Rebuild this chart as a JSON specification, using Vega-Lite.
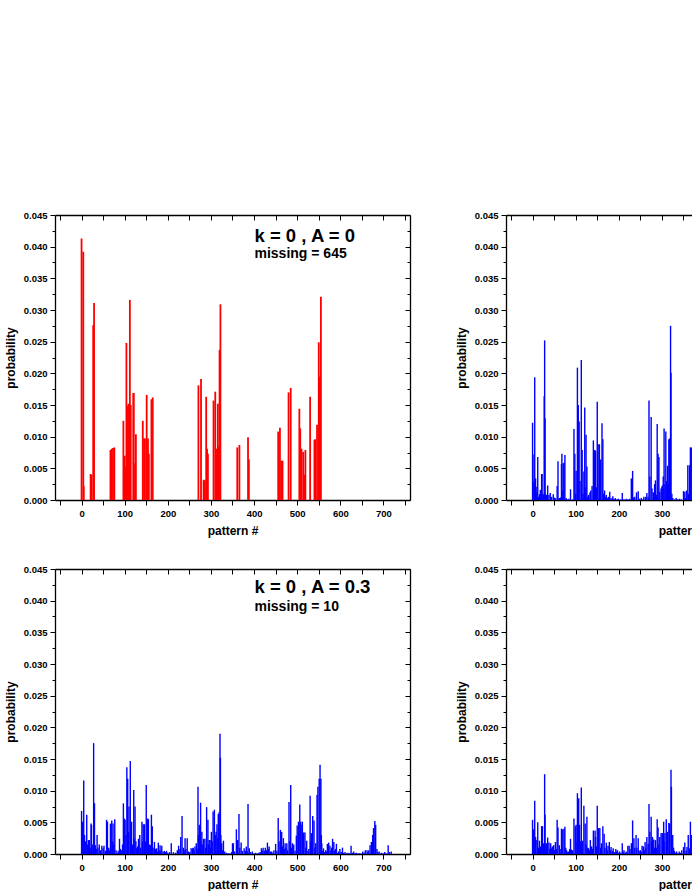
{
  "$schema": "https://vega.github.io/schema/vega-lite/v6.json",
  "background": "white",
  "padding": {"left": 4, "top": 210, "right": 0, "bottom": 0},
  "datasets": {
    "p1": [
      {"x":0,"p":0.0413},{"x":4,"p":0.0392},{"x":5,"p":0.0022},{"x":21,"p":0.0041},{"x":23,"p":0.0040},{"x":27,"p":0.0276},{"x":29,"p":0.0311},
      {"x":67,"p":0.0079},{"x":70,"p":0.0081},{"x":73,"p":0.0082},{"x":76,"p":0.0083},{"x":97,"p":0.0125},{"x":100,"p":0.0070},{"x":102,"p":0.0053},
      {"x":104,"p":0.0248},{"x":106,"p":0.0149},{"x":109,"p":0.0152},{"x":112,"p":0.0316},{"x":114,"p":0.0150},{"x":120,"p":0.0169},{"x":121,"p":0.0169},
      {"x":124,"p":0.0058},{"x":126,"p":0.0104},{"x":142,"p":0.0125},{"x":145,"p":0.0097},{"x":147,"p":0.0097},{"x":151,"p":0.0166},{"x":154,"p":0.0097},
      {"x":156,"p":0.0073},{"x":162,"p":0.0159},{"x":165,"p":0.0162},{"x":271,"p":0.0181},{"x":277,"p":0.0191},{"x":283,"p":0.0032},{"x":286,"p":0.0031},
      {"x":289,"p":0.0163},{"x":291,"p":0.0081},{"x":293,"p":0.0073},{"x":306,"p":0.0157},{"x":310,"p":0.0171},{"x":313,"p":0.0081},{"x":316,"p":0.0152},
      {"x":318,"p":0.0085},{"x":320,"p":0.0237},{"x":322,"p":0.0309},{"x":361,"p":0.0083},{"x":366,"p":0.0087},{"x":386,"p":0.0099},{"x":388,"p":0.0064},
      {"x":456,"p":0.0108},{"x":460,"p":0.0114},{"x":463,"p":0.0062},{"x":466,"p":0.0062},{"x":480,"p":0.0170},{"x":485,"p":0.0177},{"x":505,"p":0.0144},
      {"x":507,"p":0.0113},{"x":510,"p":0.0081},{"x":514,"p":0.0076},{"x":516,"p":0.0040},{"x":519,"p":0.0079},{"x":530,"p":0.0163},{"x":540,"p":0.0095},
      {"x":542,"p":0.0096},{"x":546,"p":0.0119},{"x":550,"p":0.0249},{"x":552,"p":0.0195},{"x":555,"p":0.0321}
    ],
    "p2": [
      {"x":0,"p":0.0122},{"x":1,"p":0.0072},{"x":3,"p":0.0029},{"x":5,"p":0.0194},{"x":7,"p":0.0034},{"x":8,"p":0.0012},{"x":10,"p":0.0021},{"x":12,"p":0.0068},
      {"x":14,"p":0.0005},{"x":16,"p":0.0009},{"x":18,"p":0.0016},{"x":21,"p":0.0041},{"x":22,"p":0.0041},{"x":24,"p":0.0010},{"x":25,"p":0.0008},{"x":27,"p":0.0164},
      {"x":28,"p":0.0252},{"x":29,"p":0.0129},{"x":30,"p":0.0010},{"x":32,"p":0.0008},{"x":35,"p":0.0023},{"x":38,"p":0.0008},{"x":41,"p":0.0011},{"x":44,"p":0.0005},
      {"x":48,"p":0.0009},{"x":50,"p":0.0004},{"x":53,"p":0.0003},{"x":57,"p":0.0022},{"x":59,"p":0.0061},{"x":62,"p":0.0003},{"x":65,"p":0.0004},{"x":67,"p":0.0057},
      {"x":68,"p":0.0073},{"x":70,"p":0.0015},{"x":71,"p":0.0058},{"x":73,"p":0.0059},{"x":75,"p":0.0071},{"x":78,"p":0.0003},{"x":81,"p":0.0001},{"x":84,"p":0.0002},
      {"x":88,"p":0.0017},{"x":93,"p":0.0001},{"x":96,"p":0.0112},{"x":98,"p":0.0073},{"x":100,"p":0.0010},{"x":101,"p":0.0046},{"x":104,"p":0.0209},{"x":106,"p":0.0150},
      {"x":108,"p":0.0124},{"x":110,"p":0.0030},{"x":113,"p":0.0221},{"x":115,"p":0.0079},{"x":117,"p":0.0010},{"x":119,"p":0.0045},{"x":121,"p":0.0146},{"x":122,"p":0.0020},
      {"x":124,"p":0.0103},{"x":126,"p":0.0053},{"x":128,"p":0.0005},{"x":130,"p":0.0008},{"x":133,"p":0.0012},{"x":135,"p":0.0015},{"x":138,"p":0.0022},{"x":141,"p":0.0094},
      {"x":144,"p":0.0079},{"x":146,"p":0.0078},{"x":148,"p":0.0020},{"x":150,"p":0.0155},{"x":152,"p":0.0088},{"x":155,"p":0.0088},{"x":158,"p":0.0064},{"x":161,"p":0.0121},
      {"x":163,"p":0.0096},{"x":165,"p":0.0010},{"x":167,"p":0.0015},{"x":169,"p":0.0005},{"x":171,"p":0.0008},{"x":174,"p":0.0003},{"x":176,"p":0.0005},{"x":179,"p":0.0013},
      {"x":182,"p":0.0003},{"x":186,"p":0.0006},{"x":189,"p":0.0002},{"x":192,"p":0.0003},{"x":196,"p":0.0001},{"x":199,"p":0.0002},{"x":204,"p":0.0001},{"x":208,"p":0.0011},
      {"x":212,"p":0.0001},{"x":217,"p":0.0002},{"x":221,"p":0.0001},{"x":225,"p":0.0002},{"x":229,"p":0.0034},{"x":232,"p":0.0046},{"x":234,"p":0.0004},{"x":237,"p":0.0005},
      {"x":241,"p":0.0012},{"x":245,"p":0.0014},{"x":248,"p":0.0002},{"x":252,"p":0.0003},{"x":255,"p":0.0001},{"x":258,"p":0.0005},{"x":262,"p":0.0005},{"x":265,"p":0.0011},
      {"x":268,"p":0.0005},{"x":270,"p":0.0157},{"x":272,"p":0.0037},{"x":275,"p":0.0131},{"x":277,"p":0.0018},{"x":280,"p":0.0012},{"x":283,"p":0.0025},{"x":285,"p":0.0031},
      {"x":287,"p":0.0008},{"x":289,"p":0.0120},{"x":291,"p":0.0073},{"x":293,"p":0.0068},{"x":295,"p":0.0013},{"x":298,"p":0.0018},{"x":300,"p":0.0021},{"x":301,"p":0.0023},
      {"x":303,"p":0.0037},{"x":305,"p":0.0113},{"x":307,"p":0.0025},{"x":309,"p":0.0108},{"x":311,"p":0.0030},{"x":313,"p":0.0054},{"x":315,"p":0.0025},{"x":316,"p":0.0096},
      {"x":318,"p":0.0097},{"x":320,"p":0.0275},{"x":321,"p":0.0201},{"x":323,"p":0.0010},{"x":325,"p":0.0003},{"x":329,"p":0.0001},{"x":333,"p":0.0003},{"x":337,"p":0.0001},
      {"x":341,"p":0.0002},{"x":345,"p":0.0001},{"x":350,"p":0.0014},{"x":353,"p":0.0013},{"x":355,"p":0.0003},{"x":357,"p":0.0015},{"x":360,"p":0.0055},{"x":362,"p":0.0010},
      {"x":364,"p":0.0055},{"x":366,"p":0.0083},{"x":368,"p":0.0083}
    ],
    "p3": [
      {"x":0,"p":0.0068},{"x":2,"p":0.0051},{"x":5,"p":0.0116},{"x":7,"p":0.0030},{"x":9,"p":0.0020},{"x":12,"p":0.0062},{"x":14,"p":0.0015},{"x":16,"p":0.0022},
      {"x":18,"p":0.0022},{"x":20,"p":0.0010},{"x":22,"p":0.0048},{"x":23,"p":0.0046},{"x":26,"p":0.0015},{"x":28,"p":0.0175},{"x":30,"p":0.0080},{"x":32,"p":0.0014},
      {"x":34,"p":0.0008},{"x":36,"p":0.0030},{"x":38,"p":0.0010},{"x":41,"p":0.0015},{"x":44,"p":0.0006},{"x":47,"p":0.0013},{"x":50,"p":0.0009},{"x":52,"p":0.0013},
      {"x":55,"p":0.0005},{"x":58,"p":0.0054},{"x":60,"p":0.0051},{"x":63,"p":0.0010},{"x":65,"p":0.0006},{"x":67,"p":0.0048},{"x":70,"p":0.0053},{"x":72,"p":0.0020},
      {"x":73,"p":0.0048},{"x":75,"p":0.0015},{"x":77,"p":0.0055},{"x":80,"p":0.0006},{"x":82,"p":0.0002},{"x":85,"p":0.0005},{"x":88,"p":0.0024},{"x":90,"p":0.0008},
      {"x":92,"p":0.0006},{"x":95,"p":0.0015},{"x":97,"p":0.0080},{"x":99,"p":0.0056},{"x":101,"p":0.0054},{"x":103,"p":0.0030},{"x":105,"p":0.0137},{"x":107,"p":0.0119},
      {"x":109,"p":0.0035},{"x":110,"p":0.0075},{"x":113,"p":0.0147},{"x":114,"p":0.0025},{"x":116,"p":0.0051},{"x":118,"p":0.0015},{"x":121,"p":0.0101},{"x":122,"p":0.0025},
      {"x":124,"p":0.0075},{"x":126,"p":0.0020},{"x":128,"p":0.0009},{"x":130,"p":0.0012},{"x":132,"p":0.0024},{"x":135,"p":0.0030},{"x":137,"p":0.0010},{"x":140,"p":0.0051},
      {"x":141,"p":0.0020},{"x":143,"p":0.0047},{"x":146,"p":0.0047},{"x":148,"p":0.0020},{"x":150,"p":0.0109},{"x":152,"p":0.0030},{"x":153,"p":0.0056},{"x":155,"p":0.0055},
      {"x":157,"p":0.0015},{"x":160,"p":0.0014},{"x":162,"p":0.0062},{"x":164,"p":0.0044},{"x":166,"p":0.0010},{"x":169,"p":0.0019},{"x":171,"p":0.0008},{"x":174,"p":0.0009},
      {"x":176,"p":0.0004},{"x":178,"p":0.0018},{"x":180,"p":0.0006},{"x":182,"p":0.0014},{"x":184,"p":0.0005},{"x":186,"p":0.0013},{"x":189,"p":0.0004},{"x":192,"p":0.0005},
      {"x":195,"p":0.0003},{"x":197,"p":0.0005},{"x":200,"p":0.0002},{"x":204,"p":0.0003},{"x":208,"p":0.0017},{"x":213,"p":0.0003},{"x":218,"p":0.0002},{"x":222,"p":0.0006},
      {"x":225,"p":0.0013},{"x":228,"p":0.0008},{"x":230,"p":0.0027},{"x":233,"p":0.0060},{"x":236,"p":0.0010},{"x":238,"p":0.0006},{"x":240,"p":0.0025},{"x":242,"p":0.0008},
      {"x":245,"p":0.0025},{"x":248,"p":0.0004},{"x":251,"p":0.0003},{"x":254,"p":0.0009},{"x":257,"p":0.0009},{"x":259,"p":0.0010},{"x":261,"p":0.0006},{"x":263,"p":0.0012},
      {"x":266,"p":0.0017},{"x":268,"p":0.0008},{"x":270,"p":0.0106},{"x":271,"p":0.0030},{"x":273,"p":0.0046},{"x":276,"p":0.0081},{"x":277,"p":0.0020},{"x":279,"p":0.0035},
      {"x":281,"p":0.0015},{"x":283,"p":0.0024},{"x":286,"p":0.0024},{"x":288,"p":0.0010},{"x":290,"p":0.0074},{"x":293,"p":0.0054},{"x":294,"p":0.0015},{"x":296,"p":0.0022},
      {"x":298,"p":0.0022},{"x":299,"p":0.0010},{"x":301,"p":0.0035},{"x":303,"p":0.0020},{"x":305,"p":0.0067},{"x":308,"p":0.0070},{"x":310,"p":0.0030},{"x":312,"p":0.0035},
      {"x":314,"p":0.0047},{"x":316,"p":0.0025},{"x":317,"p":0.0063},{"x":319,"p":0.0066},{"x":321,"p":0.0190},{"x":322,"p":0.0152},{"x":323,"p":0.0030},{"x":325,"p":0.0017},
      {"x":327,"p":0.0006},{"x":329,"p":0.0021},{"x":332,"p":0.0004},{"x":336,"p":0.0002},{"x":340,"p":0.0001},{"x":344,"p":0.0001},{"x":348,"p":0.0003},{"x":350,"p":0.0017},
      {"x":352,"p":0.0017},{"x":355,"p":0.0004},{"x":359,"p":0.0039},{"x":362,"p":0.0022},{"x":365,"p":0.0063},{"x":367,"p":0.0010},{"x":370,"p":0.0018},{"x":373,"p":0.0005},
      {"x":377,"p":0.0009},{"x":380,"p":0.0005},{"x":382,"p":0.0012},{"x":384,"p":0.0004},{"x":386,"p":0.0079},{"x":389,"p":0.0009},{"x":392,"p":0.0003},{"x":396,"p":0.0004},
      {"x":400,"p":0.0001},{"x":404,"p":0.0002},{"x":408,"p":0.0001},{"x":411,"p":0.0002},{"x":414,"p":0.0003},{"x":417,"p":0.0009},{"x":419,"p":0.0005},{"x":421,"p":0.0010},
      {"x":424,"p":0.0005},{"x":426,"p":0.0010},{"x":429,"p":0.0006},{"x":431,"p":0.0018},{"x":433,"p":0.0008},{"x":435,"p":0.0012},{"x":438,"p":0.0004},{"x":441,"p":0.0004},
      {"x":444,"p":0.0002},{"x":446,"p":0.0006},{"x":450,"p":0.0016},{"x":453,"p":0.0005},{"x":456,"p":0.0057},{"x":458,"p":0.0020},{"x":461,"p":0.0038},{"x":464,"p":0.0035},
      {"x":466,"p":0.0012},{"x":468,"p":0.0025},{"x":470,"p":0.0008},{"x":472,"p":0.0017},{"x":474,"p":0.0010},{"x":476,"p":0.0017},{"x":478,"p":0.0006},{"x":481,"p":0.0082},
      {"x":483,"p":0.0020},{"x":485,"p":0.0109},{"x":487,"p":0.0010},{"x":489,"p":0.0017},{"x":492,"p":0.0015},{"x":495,"p":0.0005},{"x":498,"p":0.0029},{"x":500,"p":0.0045},
      {"x":503,"p":0.0051},{"x":506,"p":0.0078},{"x":508,"p":0.0051},{"x":509,"p":0.0046},{"x":512,"p":0.0051},{"x":513,"p":0.0020},{"x":515,"p":0.0034},{"x":518,"p":0.0034},
      {"x":520,"p":0.0010},{"x":522,"p":0.0021},{"x":525,"p":0.0005},{"x":527,"p":0.0008},{"x":530,"p":0.0092},{"x":531,"p":0.0020},{"x":533,"p":0.0033},{"x":536,"p":0.0060},
      {"x":539,"p":0.0053},{"x":541,"p":0.0010},{"x":543,"p":0.0017},{"x":546,"p":0.0093},{"x":548,"p":0.0106},{"x":551,"p":0.0119},{"x":553,"p":0.0141},{"x":555,"p":0.0119},
      {"x":556,"p":0.0030},{"x":557,"p":0.0017},{"x":559,"p":0.0005},{"x":561,"p":0.0009},{"x":563,"p":0.0003},{"x":566,"p":0.0006},{"x":568,"p":0.0004},{"x":570,"p":0.0016},
      {"x":573,"p":0.0018},{"x":576,"p":0.0013},{"x":578,"p":0.0005},{"x":580,"p":0.0010},{"x":582,"p":0.0024},{"x":585,"p":0.0019},{"x":587,"p":0.0005},{"x":589,"p":0.0008},
      {"x":591,"p":0.0016},{"x":594,"p":0.0002},{"x":596,"p":0.0004},{"x":599,"p":0.0008},{"x":602,"p":0.0003},{"x":605,"p":0.0010},{"x":608,"p":0.0002},{"x":611,"p":0.0003},
      {"x":615,"p":0.0001},{"x":618,"p":0.0002},{"x":622,"p":0.0001},{"x":625,"p":0.0013},{"x":628,"p":0.0002},{"x":631,"p":0.0004},{"x":634,"p":0.0001},{"x":637,"p":0.0002},
      {"x":641,"p":0.0001},{"x":644,"p":0.0001},{"x":648,"p":0.0001},{"x":652,"p":0.0004},{"x":655,"p":0.0002},{"x":658,"p":0.0006},{"x":662,"p":0.0006},{"x":664,"p":0.0003},
      {"x":666,"p":0.0006},{"x":669,"p":0.0014},{"x":672,"p":0.0019},{"x":675,"p":0.0030},{"x":677,"p":0.0041},{"x":680,"p":0.0052},{"x":682,"p":0.0046},{"x":685,"p":0.0008},
      {"x":687,"p":0.0003},{"x":690,"p":0.0004},{"x":693,"p":0.0001},{"x":696,"p":0.0002},{"x":700,"p":0.0001},{"x":703,"p":0.0003},{"x":707,"p":0.0001},{"x":711,"p":0.0014},
      {"x":714,"p":0.0003},{"x":718,"p":0.0004}
    ],
    "p4": [
      {"x":0,"p":0.0054},{"x":2,"p":0.0039},{"x":5,"p":0.0084},{"x":7,"p":0.0027},{"x":10,"p":0.0022},{"x":12,"p":0.0050},{"x":14,"p":0.0010},{"x":16,"p":0.0021},
      {"x":18,"p":0.0012},{"x":21,"p":0.0044},{"x":23,"p":0.0044},{"x":25,"p":0.0017},{"x":28,"p":0.0126},{"x":29,"p":0.0062},{"x":30,"p":0.0015},{"x":32,"p":0.0017},
      {"x":35,"p":0.0026},{"x":38,"p":0.0018},{"x":40,"p":0.0008},{"x":42,"p":0.0017},{"x":44,"p":0.0009},{"x":46,"p":0.0012},{"x":49,"p":0.0014},{"x":51,"p":0.0006},
      {"x":53,"p":0.0019},{"x":55,"p":0.0008},{"x":57,"p":0.0054},{"x":59,"p":0.0042},{"x":62,"p":0.0014},{"x":64,"p":0.0008},{"x":67,"p":0.0040},{"x":70,"p":0.0039},
      {"x":73,"p":0.0040},{"x":75,"p":0.0043},{"x":77,"p":0.0010},{"x":79,"p":0.0006},{"x":81,"p":0.0003},{"x":83,"p":0.0004},{"x":86,"p":0.0008},{"x":88,"p":0.0024},
      {"x":90,"p":0.0007},{"x":93,"p":0.0006},{"x":96,"p":0.0056},{"x":99,"p":0.0044},{"x":101,"p":0.0046},{"x":103,"p":0.0020},{"x":104,"p":0.0096},{"x":107,"p":0.0088},
      {"x":109,"p":0.0046},{"x":111,"p":0.0020},{"x":113,"p":0.0105},{"x":116,"p":0.0021},{"x":119,"p":0.0076},{"x":122,"p":0.0048},{"x":124,"p":0.0015},{"x":126,"p":0.0059},
      {"x":128,"p":0.0010},{"x":130,"p":0.0009},{"x":132,"p":0.0006},{"x":134,"p":0.0022},{"x":137,"p":0.0012},{"x":139,"p":0.0008},{"x":141,"p":0.0037},{"x":145,"p":0.0037},
      {"x":146,"p":0.0027},{"x":148,"p":0.0012},{"x":150,"p":0.0076},{"x":153,"p":0.0041},{"x":156,"p":0.0041},{"x":158,"p":0.0010},{"x":160,"p":0.0017},{"x":163,"p":0.0044},
      {"x":166,"p":0.0032},{"x":168,"p":0.0010},{"x":171,"p":0.0018},{"x":173,"p":0.0006},{"x":175,"p":0.0013},{"x":178,"p":0.0019},{"x":180,"p":0.0006},{"x":182,"p":0.0011},
      {"x":185,"p":0.0005},{"x":187,"p":0.0009},{"x":190,"p":0.0003},{"x":193,"p":0.0008},{"x":195,"p":0.0004},{"x":197,"p":0.0006},{"x":200,"p":0.0002},{"x":202,"p":0.0004},
      {"x":205,"p":0.0002},{"x":208,"p":0.0017},{"x":210,"p":0.0003},{"x":212,"p":0.0006},{"x":215,"p":0.0002},{"x":217,"p":0.0004},{"x":219,"p":0.0002},{"x":221,"p":0.0013},
      {"x":224,"p":0.0013},{"x":226,"p":0.0008},{"x":229,"p":0.0017},{"x":232,"p":0.0053},{"x":235,"p":0.0025},{"x":237,"p":0.0010},{"x":240,"p":0.0030},{"x":242,"p":0.0010},
      {"x":245,"p":0.0025},{"x":247,"p":0.0005},{"x":250,"p":0.0006},{"x":252,"p":0.0003},{"x":254,"p":0.0013},{"x":257,"p":0.0012},{"x":259,"p":0.0006},{"x":261,"p":0.0019},
      {"x":263,"p":0.0010},{"x":265,"p":0.0027},{"x":268,"p":0.0016},{"x":270,"p":0.0079},{"x":272,"p":0.0035},{"x":275,"p":0.0059},{"x":276,"p":0.0020},{"x":278,"p":0.0027},
      {"x":281,"p":0.0023},{"x":283,"p":0.0010},{"x":285,"p":0.0022},{"x":287,"p":0.0010},{"x":289,"p":0.0055},{"x":291,"p":0.0042},{"x":293,"p":0.0015},{"x":295,"p":0.0027},
      {"x":298,"p":0.0033},{"x":301,"p":0.0033},{"x":304,"p":0.0051},{"x":305,"p":0.0020},{"x":307,"p":0.0033},{"x":310,"p":0.0055},{"x":311,"p":0.0020},{"x":313,"p":0.0035},
      {"x":316,"p":0.0049},{"x":318,"p":0.0048},{"x":321,"p":0.0133},{"x":322,"p":0.0106},{"x":325,"p":0.0030},{"x":327,"p":0.0010},{"x":329,"p":0.0005},{"x":332,"p":0.0002},
      {"x":334,"p":0.0004},{"x":337,"p":0.0001},{"x":340,"p":0.0004},{"x":343,"p":0.0002},{"x":346,"p":0.0006},{"x":350,"p":0.0011},{"x":353,"p":0.0018},{"x":356,"p":0.0005},
      {"x":358,"p":0.0011},{"x":361,"p":0.0030},{"x":364,"p":0.0009},{"x":366,"p":0.0051},{"x":368,"p":0.0030}
    ]
  },
  "vconcat": [
    {
      "hconcat": [
        {
          "width": 355, "height": 285,
          "layer": [
            {"data": {"name": "p1"}, "mark": {"type": "bar", "size": 1.8, "color": "#ff0000"},
             "encoding": {
               "x": {"field": "x", "type": "quantitative", "scale": {"domain": [-50, 750], "nice": false, "zero": false},
                     "axis": {"orient": "bottom", "values": [-50,0,50,100,150,200,250,300,350,400,450,500,550,600,650,700,750], "labelExpr": "datum.value >= 0 && datum.value % 100 == 0 ? datum.label : ''", "tickSize": 5, "title": "pattern  #", "titlePadding": 8}},
               "y": {"field": "p", "type": "quantitative", "scale": {"domain": [0, 0.045], "nice": false},
                     "axis": {"orient": "left", "values": [0,0.0025,0.005,0.0075,0.01,0.0125,0.015,0.0175,0.02,0.0225,0.025,0.0275,0.03,0.0325,0.035,0.0375,0.04,0.0425,0.045], "labelExpr": "abs(datum.value*200 - round(datum.value*200)) < 0.01 ? format(datum.value, '.3f') : ''", "tickSize": {"expr": "abs(datum.value*200 - round(datum.value*200)) < 0.01 ? 5 : 3"}, "title": "probability", "titlePadding": 6}}
             }},
            {"data": {"name": "p1"}, "mark": {"type": "point", "opacity": 0},
             "encoding": {
               "x": {"field": "x", "type": "quantitative", "scale": {"domain": [-50, 750], "nice": false, "zero": false},
                     "axis": {"orient": "top", "values": [-50,0,50,100,150,200,250,300,350,400,450,500,550,600,650,700,750], "labels": false, "tickSize": -5, "title": null}},
               "y": {"field": "p", "type": "quantitative", "scale": {"domain": [0, 0.045], "nice": false},
                     "axis": {"orient": "right", "values": [0,0.0025,0.005,0.0075,0.01,0.0125,0.015,0.0175,0.02,0.0225,0.025,0.0275,0.03,0.0325,0.035,0.0375,0.04,0.0425,0.045], "labels": false, "tickSize": {"expr": "abs(datum.value*200 - round(datum.value*200)) < 0.01 ? -5 : -3"}, "title": null}}
             }},
            {"data": {"values": [{"x": 401, "y": 0.0407, "t": "k = 0 , A = 0"}]},
             "mark": {"type": "text", "align": "left", "baseline": "alphabetic", "fontSize": 18.5, "fontWeight": "bold", "font": "Liberation Sans", "color": "black"},
             "encoding": {"x": {"field": "x", "type": "quantitative", "axis": null}, "y": {"field": "y", "type": "quantitative", "axis": null}, "text": {"field": "t"}}},
            {"data": {"values": [{"x": 401, "y": 0.0382, "t": "missing = 645"}]},
             "mark": {"type": "text", "align": "left", "baseline": "alphabetic", "fontSize": 14, "fontWeight": "bold", "font": "Liberation Sans", "color": "black"},
             "encoding": {"x": {"field": "x", "type": "quantitative", "axis": null}, "y": {"field": "y", "type": "quantitative", "axis": null}, "text": {"field": "t"}}}
          ],
          "resolve": {"axis": {"x": "independent", "y": "independent"}}
        },
        {
          "width": 355, "height": 285,
          "layer": [
            {"data": {"name": "p2"}, "mark": {"type": "bar", "size": 1.4, "color": "#0000ff"},
             "encoding": {
               "x": {"field": "x", "type": "quantitative", "scale": {"domain": [-50, 750], "nice": false, "zero": false},
                     "axis": {"orient": "bottom", "values": [-50,0,50,100,150,200,250,300,350,400,450,500,550,600,650,700,750], "labelExpr": "datum.value >= 0 && datum.value % 100 == 0 ? datum.label : ''", "tickSize": 5, "title": "pattern  #", "titlePadding": 8}},
               "y": {"field": "p", "type": "quantitative", "scale": {"domain": [0, 0.045], "nice": false},
                     "axis": {"orient": "left", "values": [0,0.0025,0.005,0.0075,0.01,0.0125,0.015,0.0175,0.02,0.0225,0.025,0.0275,0.03,0.0325,0.035,0.0375,0.04,0.0425,0.045], "labelExpr": "abs(datum.value*200 - round(datum.value*200)) < 0.01 ? format(datum.value, '.3f') : ''", "tickSize": {"expr": "abs(datum.value*200 - round(datum.value*200)) < 0.01 ? 5 : 3"}, "title": "probability", "titlePadding": 6}}
             }},
            {"data": {"name": "p2"}, "mark": {"type": "point", "opacity": 0},
             "encoding": {
               "x": {"field": "x", "type": "quantitative", "scale": {"domain": [-50, 750], "nice": false, "zero": false},
                     "axis": {"orient": "top", "values": [-50,0,50,100,150,200,250,300,350,400,450,500,550,600,650,700,750], "labels": false, "tickSize": -5, "title": null}},
               "y": {"field": "p", "type": "quantitative", "scale": {"domain": [0, 0.045], "nice": false},
                     "axis": {"orient": "right", "values": [0,0.0025,0.005,0.0075,0.01,0.0125,0.015,0.0175,0.02,0.0225,0.025,0.0275,0.03,0.0325,0.035,0.0375,0.04,0.0425,0.045], "labels": false, "tickSize": {"expr": "abs(datum.value*200 - round(datum.value*200)) < 0.01 ? -5 : -3"}, "title": null}}
             }}
          ],
          "resolve": {"axis": {"x": "independent", "y": "independent"}}
        }
      ],
      "spacing": 44
    },
    {
      "hconcat": [
        {
          "width": 355, "height": 285,
          "layer": [
            {"data": {"name": "p3"}, "mark": {"type": "bar", "size": 1.4, "color": "#0000ff"},
             "encoding": {
               "x": {"field": "x", "type": "quantitative", "scale": {"domain": [-50, 750], "nice": false, "zero": false},
                     "axis": {"orient": "bottom", "values": [-50,0,50,100,150,200,250,300,350,400,450,500,550,600,650,700,750], "labelExpr": "datum.value >= 0 && datum.value % 100 == 0 ? datum.label : ''", "tickSize": 5, "title": "pattern #", "titlePadding": 8}},
               "y": {"field": "p", "type": "quantitative", "scale": {"domain": [0, 0.045], "nice": false},
                     "axis": {"orient": "left", "values": [0,0.0025,0.005,0.0075,0.01,0.0125,0.015,0.0175,0.02,0.0225,0.025,0.0275,0.03,0.0325,0.035,0.0375,0.04,0.0425,0.045], "labelExpr": "abs(datum.value*200 - round(datum.value*200)) < 0.01 ? format(datum.value, '.3f') : ''", "tickSize": {"expr": "abs(datum.value*200 - round(datum.value*200)) < 0.01 ? 5 : 3"}, "title": "probability", "titlePadding": 6}}
             }},
            {"data": {"name": "p3"}, "mark": {"type": "point", "opacity": 0},
             "encoding": {
               "x": {"field": "x", "type": "quantitative", "scale": {"domain": [-50, 750], "nice": false, "zero": false},
                     "axis": {"orient": "top", "values": [-50,0,50,100,150,200,250,300,350,400,450,500,550,600,650,700,750], "labels": false, "tickSize": -5, "title": null}},
               "y": {"field": "p", "type": "quantitative", "scale": {"domain": [0, 0.045], "nice": false},
                     "axis": {"orient": "right", "values": [0,0.0025,0.005,0.0075,0.01,0.0125,0.015,0.0175,0.02,0.0225,0.025,0.0275,0.03,0.0325,0.035,0.0375,0.04,0.0425,0.045], "labels": false, "tickSize": {"expr": "abs(datum.value*200 - round(datum.value*200)) < 0.01 ? -5 : -3"}, "title": null}}
             }},
            {"data": {"values": [{"x": 401, "y": 0.0412, "t": "k = 0 , A = 0.3"}]},
             "mark": {"type": "text", "align": "left", "baseline": "alphabetic", "fontSize": 18.5, "fontWeight": "bold", "font": "Liberation Sans", "color": "black"},
             "encoding": {"x": {"field": "x", "type": "quantitative", "axis": null}, "y": {"field": "y", "type": "quantitative", "axis": null}, "text": {"field": "t"}}},
            {"data": {"values": [{"x": 401, "y": 0.0384, "t": "missing = 10"}]},
             "mark": {"type": "text", "align": "left", "baseline": "alphabetic", "fontSize": 14, "fontWeight": "bold", "font": "Liberation Sans", "color": "black"},
             "encoding": {"x": {"field": "x", "type": "quantitative", "axis": null}, "y": {"field": "y", "type": "quantitative", "axis": null}, "text": {"field": "t"}}}
          ],
          "resolve": {"axis": {"x": "independent", "y": "independent"}}
        },
        {
          "width": 355, "height": 285,
          "layer": [
            {"data": {"name": "p4"}, "mark": {"type": "bar", "size": 1.4, "color": "#0000ff"},
             "encoding": {
               "x": {"field": "x", "type": "quantitative", "scale": {"domain": [-50, 750], "nice": false, "zero": false},
                     "axis": {"orient": "bottom", "values": [-50,0,50,100,150,200,250,300,350,400,450,500,550,600,650,700,750], "labelExpr": "datum.value >= 0 && datum.value % 100 == 0 ? datum.label : ''", "tickSize": 5, "title": "pattern #", "titlePadding": 8}},
               "y": {"field": "p", "type": "quantitative", "scale": {"domain": [0, 0.045], "nice": false},
                     "axis": {"orient": "left", "values": [0,0.0025,0.005,0.0075,0.01,0.0125,0.015,0.0175,0.02,0.0225,0.025,0.0275,0.03,0.0325,0.035,0.0375,0.04,0.0425,0.045], "labelExpr": "abs(datum.value*200 - round(datum.value*200)) < 0.01 ? format(datum.value, '.3f') : ''", "tickSize": {"expr": "abs(datum.value*200 - round(datum.value*200)) < 0.01 ? 5 : 3"}, "title": "probability", "titlePadding": 6}}
             }},
            {"data": {"name": "p4"}, "mark": {"type": "point", "opacity": 0},
             "encoding": {
               "x": {"field": "x", "type": "quantitative", "scale": {"domain": [-50, 750], "nice": false, "zero": false},
                     "axis": {"orient": "top", "values": [-50,0,50,100,150,200,250,300,350,400,450,500,550,600,650,700,750], "labels": false, "tickSize": -5, "title": null}},
               "y": {"field": "p", "type": "quantitative", "scale": {"domain": [0, 0.045], "nice": false},
                     "axis": {"orient": "right", "values": [0,0.0025,0.005,0.0075,0.01,0.0125,0.015,0.0175,0.02,0.0225,0.025,0.0275,0.03,0.0325,0.035,0.0375,0.04,0.0425,0.045], "labels": false, "tickSize": {"expr": "abs(datum.value*200 - round(datum.value*200)) < 0.01 ? -5 : -3"}, "title": null}}
             }}
          ],
          "resolve": {"axis": {"x": "independent", "y": "independent"}}
        }
      ],
      "spacing": 44
    }
  ],
  "spacing": 27,
  "config": {
    "view": {"stroke": null},
    "axis": {
      "labelFont": "Liberation Sans", "labelFontWeight": "bold", "labelFontSize": 9.5, "labelColor": "#000000",
      "titleFont": "Liberation Sans", "titleFontWeight": "bold", "titleFontSize": 12, "titleColor": "#000000",
      "domainColor": "#000000", "domainWidth": 1.3, "tickColor": "#000000", "tickWidth": 1,
      "grid": false, "labelPadding": 3, "labelFlush": false, "labelOverlap": false
    }
  }
}
